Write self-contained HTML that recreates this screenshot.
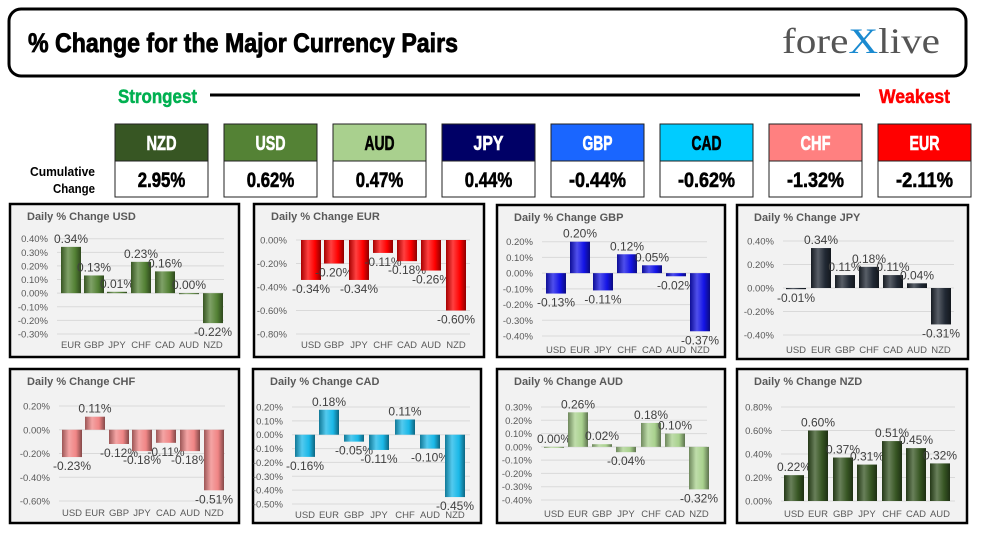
<!DOCTYPE html>
<html><head><meta charset="utf-8"><style>
html,body{margin:0;padding:0;background:#fff;}
svg{display:block;font-family:"Liberation Sans",sans-serif;}
</style></head><body>
<svg id="s" width="988" height="534" viewBox="0 0 988 534" xmlns="http://www.w3.org/2000/svg">
<rect x="9" y="9" width="957" height="67" rx="12" fill="#fff" stroke="#000" stroke-width="3"/>
<text x="28" y="52" font-size="27" font-weight="bold" stroke="#000" stroke-width="0.8" textLength="430" lengthAdjust="spacingAndGlyphs">% Change for the Major Currency Pairs</text>
<text x="782" y="53" font-family="Liberation Serif,serif" font-size="36" fill="#555" textLength="158" lengthAdjust="spacingAndGlyphs">fore<tspan fill="#1a8ad0">X</tspan>live</text>
<text x="118" y="103" font-size="19" font-weight="bold" fill="#00b050" stroke="#00b050" stroke-width="0.5" textLength="79" lengthAdjust="spacingAndGlyphs">Strongest</text>
<line x1="210" y1="95" x2="860" y2="95" stroke="#000" stroke-width="3"/>
<text x="879" y="103" font-size="19" font-weight="bold" fill="#ff0000" stroke="#ff0000" stroke-width="0.5" textLength="71" lengthAdjust="spacingAndGlyphs">Weakest</text>
<text x="95" y="176" font-size="13" font-weight="bold" text-anchor="end" textLength="65" lengthAdjust="spacingAndGlyphs">Cumulative</text>
<text x="95" y="193" font-size="13" font-weight="bold" text-anchor="end" textLength="42" lengthAdjust="spacingAndGlyphs">Change</text>
<g id="hdr"></g>
<g id="charts"></g>
</svg>
<script>
var NS="http://www.w3.org/2000/svg";
function el(p,t,a,txt){var e=document.createElementNS(NS,t);for(var k in a)e.setAttribute(k,a[k]);if(txt!=null)e.textContent=txt;p.appendChild(e);return e;}
var s=document.getElementById('s');
var defs=el(s,'defs',{});
var hdr=document.getElementById('hdr');
var boxes=[["NZD","#375623","#fff","2.95%"],["USD","#548235","#fff","0.62%"],["AUD","#a9d08e","#000","0.47%"],["JPY","#000066","#fff","0.44%"],["GBP","#1a66ff","#fff","-0.44%"],["CAD","#00ccff","#000","-0.62%"],["CHF","#ff8080","#fff","-1.32%"],["EUR","#ff0000","#fff","-2.11%"]];
var bx=[115,224,333,442,551,660,769,878];
boxes.forEach(function(b,i){var x=bx[i];
el(hdr,'rect',{x:x,y:124,width:93,height:37,fill:b[1],stroke:"#222","stroke-width":1});
el(hdr,'rect',{x:x,y:161,width:93,height:36,fill:"#fff",stroke:"#222","stroke-width":1});
el(hdr,'text',{x:x+46.5,y:150,"font-size":20,"font-weight":"bold",fill:b[2],stroke:b[2],"stroke-width":0.6,"text-anchor":"middle",textLength:b[0].length*10,lengthAdjust:"spacingAndGlyphs"},b[0]);
el(hdr,'text',{x:x+46.5,y:187,"font-size":21,"font-weight":"bold",fill:"#000",stroke:"#000","stroke-width":0.6,"text-anchor":"middle",textLength:b[3].length*9.5,lengthAdjust:"spacingAndGlyphs"},b[3]);
});
var charts=[
{t:"USD",bx:10,by:204,bw:229,bh:153,col:"#548235",ticks:[0.4,0.3,0.2,0.1,0,-0.1,-0.2,-0.3],y0:238.7,y1:334,tmax:0.4,tmin:-0.3,cats:["EUR","GBP","JPY","CHF","CAD","AUD","NZD"],xs:[71,94,117,141,165,189,213],v:[0.34,0.13,0.01,0.23,0.16,0.00,-0.22],gx:[57,224],cy:345},
{t:"EUR",bx:254,by:204,bw:230,bh:153,col:"#ff0000",ticks:[0,-0.2,-0.4,-0.6,-0.8],y0:240,y1:334,tmax:0,tmin:-0.8,cats:["USD","GBP","JPY","CHF","CAD","AUD","NZD"],xs:[311,334,359,383,407,431,456],v:[-0.34,-0.20,-0.34,-0.11,-0.18,-0.26,-0.60],gx:[296,470],cy:345},
{t:"GBP",bx:497,by:205,bw:228,bh:152,col:"#1414e6",ticks:[0.2,0.1,0,-0.1,-0.2,-0.3,-0.4],y0:241.7,y1:336,tmax:0.2,tmin:-0.4,cats:["USD","EUR","JPY","CHF","CAD","AUD","NZD"],xs:[556,580,603,627,652,676,700],v:[-0.13,0.20,-0.11,0.12,0.05,-0.02,-0.37],gx:[542,707],cy:350},
{t:"JPY",bx:737,by:205,bw:231,bh:154,col:"#222a35",ticks:[0.4,0.2,0,-0.2,-0.4],y0:241,y1:335,tmax:0.4,tmin:-0.4,cats:["USD","EUR","GBP","CHF","CAD","AUD","NZD"],xs:[796,821,845,869,893,917,941],v:[-0.01,0.34,0.11,0.18,0.11,0.04,-0.31],gx:[783,954],cy:350},
{t:"CHF",bx:10,by:369,bw:229,bh:154,col:"#f08585",ticks:[0.2,0,-0.2,-0.4,-0.6],y0:406,y1:501,tmax:0.2,tmin:-0.6,cats:["USD","EUR","GBP","JPY","CAD","AUD","NZD"],xs:[72,95,119,142,166,190,214],v:[-0.23,0.11,-0.12,-0.18,-0.11,-0.18,-0.51],gx:[59,225],cy:513},
{t:"CAD",bx:253,by:369,bw:228,bh:154,col:"#1ab8e8",ticks:[0.2,0.1,0,-0.1,-0.2,-0.3,-0.4,-0.5],y0:407,y1:504,tmax:0.2,tmin:-0.5,cats:["USD","EUR","GBP","JPY","CHF","AUD","NZD"],xs:[305,329,354,379,405,430,455],v:[-0.16,0.18,-0.05,-0.11,0.11,-0.10,-0.45],gx:[292,470],cy:515},
{t:"AUD",bx:497,by:369,bw:228,bh:154,col:"#a9d18e",ticks:[0.3,0.2,0.1,0,-0.1,-0.2,-0.3,-0.4],y0:407,y1:500,tmax:0.3,tmin:-0.4,cats:["USD","EUR","GBP","JPY","CHF","CAD","NZD"],xs:[554,578,602,626,651,675,699],v:[0.00,0.26,0.02,-0.04,0.18,0.10,-0.32],gx:[541,707],cy:514},
{t:"NZD",bx:737,by:369,bw:230,bh:154,col:"#375623",ticks:[0.8,0.6,0.4,0.2,0],y0:407,y1:501,tmax:0.8,tmin:0,cats:["USD","EUR","GBP","JPY","CHF","CAD","AUD"],xs:[794,818,843,867,892,916,940],v:[0.22,0.60,0.37,0.31,0.51,0.45,0.32],gx:[781,955],cy:514}
];
var cg=document.getElementById('charts');
function shade(c,f){var n=parseInt(c.slice(1),16),r=n>>16,g=(n>>8)&255,b=n&255;
function m(v){return Math.round(f<0?v*(1+f):v+(255-v)*f);}
return "rgb("+m(r)+","+m(g)+","+m(b)+")";}
charts.forEach(function(c,ci){
var gid="g"+ci;var lg=el(defs,'linearGradient',{id:gid,x1:0,x2:1,y1:0,y2:0});
el(lg,'stop',{offset:"0",'stop-color':shade(c.col,-0.35)});
el(lg,'stop',{offset:"0.35",'stop-color':shade(c.col,0.25)});
el(lg,'stop',{offset:"0.7",'stop-color':c.col});
el(lg,'stop',{offset:"1",'stop-color':shade(c.col,-0.45)});
el(cg,'rect',{x:c.bx,y:c.by,width:c.bw,height:c.bh,fill:"#f2f2f2",stroke:"#000","stroke-width":2.5});
el(cg,'text',{x:c.bx+17,y:c.by+16,"font-size":11,"font-weight":"bold",fill:"#595959"},"Daily % Change "+c.t);
function Y(v){return c.y0+(c.tmax-v)/(c.tmax-c.tmin)*(c.y1-c.y0);}
c.ticks.forEach(function(t){var y=Y(t);
el(cg,'line',{x1:c.gx[0],x2:c.gx[1],y1:y,y2:y,stroke:"#d9d9d9","stroke-width":1});
el(cg,'text',{x:c.gx[0]-9,y:y+3.5,"font-size":9.5,fill:"#595959","text-anchor":"end"},(t<0?"-":"")+Math.abs(t).toFixed(2)+"%");});
var z=Y(0);
c.v.forEach(function(v,i){var x=c.xs[i],y=Y(v);var top=Math.min(y,z),h=Math.max(Math.abs(y-z),1);
el(cg,'rect',{x:x-10,y:top,width:20,height:h,fill:"url(#"+gid+")"});
var lab=(v<0?"-":"")+Math.abs(v).toFixed(2)+"%";
var ly=v>=0?top-4:top+h+13;
el(cg,'text',{x:x,y:ly,"font-size":12,fill:"#404040","text-anchor":"middle"},lab);
el(cg,'text',{x:x,y:c.cy+3,"font-size":9.5,fill:"#595959","text-anchor":"middle"},c.cats[i]);
});
});
</script>
</body></html>
